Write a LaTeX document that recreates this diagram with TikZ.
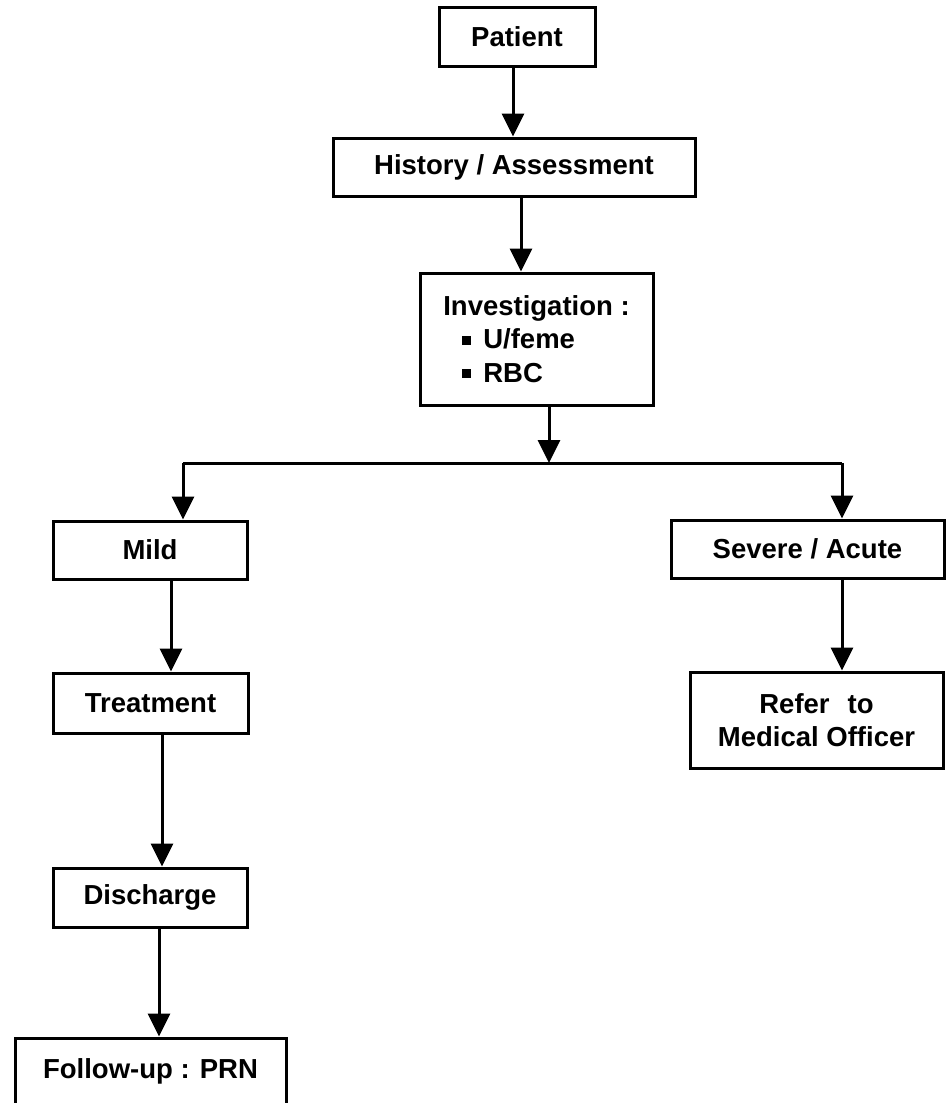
\documentclass[tikz,border=0pt]{standalone}
\usepackage{fontspec}
\setmainfont{Liberation Sans}
\usetikzlibrary{arrows.meta}

\begin{document}
\begin{tikzpicture}[x=1pt,y=-1pt,
  every node/.style={font=\fontsize{27.5}{33.5}\selectfont\bfseries},
  box/.style={draw, line width=3pt, inner sep=0pt, align=center},
  arr/.style={line width=3pt, -{Triangle[width=22pt,length=23pt]}},
  link/.style={line width=3pt}]
  \useasboundingbox (0,0) rectangle (946,1103);

  % boxes
  \node[box, minimum width=156pt, minimum height=59pt] (patient) at (517,36.5) {Patient};
  \node[box, minimum width=362pt, minimum height=58pt] (history) at (514,167) {History / Assessment};
  \node[box, minimum width=233pt, minimum height=132pt, align=left] (inv) at (536.5,339)
    {Investigation :\\
     \hspace*{19pt}\rule[4pt]{9pt}{9pt}\hspace{12pt}U/feme\\
     \hspace*{19pt}\rule[4pt]{9pt}{9pt}\hspace{12pt}RBC};
  \node[box, minimum width=194pt, minimum height=58pt] (mild) at (150,550) {Mild};
  \node[box, minimum width=273pt, minimum height=58pt] (severe) at (807.5,549) {Severe / Acute};
  \node[box, minimum width=195pt, minimum height=60pt] (treat) at (150.5,703) {Treatment};
  \node[box, minimum width=253pt, minimum height=96pt] (refer) at (816.5,720)
    {Refer\hspace{18pt}to\\Medical Officer};
  \node[box, minimum width=194pt, minimum height=59pt] (discharge) at (150,897.5) {Discharge};
  \node[box, minimum width=271pt, minimum height=66pt] (follow) at (150.5,1071) {Follow-up : PRN};

  % x positions of the connectors
  \coordinate (c1) at (513,0);
  \coordinate (c2) at (521,0);
  \coordinate (jM) at (549,463);
  \coordinate (jL) at (183,463);
  \coordinate (jR) at (842,463);
  \coordinate (c3) at (171,0);
  \coordinate (c4) at (162,0);
  \coordinate (c5) at (159,0);

  % connectors
  \draw[arr] (patient.south -| c1) -- (history.north -| c1);
  \draw[arr] (history.south -| c2) -- (inv.north -| c2);
  \draw[arr] (inv.south -| jM) -- (jM);
  \draw[link] (jL) -- (jR);
  \draw[arr] (jL) -- (jL |- mild.north);
  \draw[arr] (jR) -- (jR |- severe.north);
  \draw[arr] (mild.south -| c3) -- (treat.north -| c3);
  \draw[arr] (severe.south -| jR) -- (refer.north -| jR);
  \draw[arr] (treat.south -| c4) -- (discharge.north -| c4);
  \draw[arr] (discharge.south -| c5) -- (follow.north -| c5);
\end{tikzpicture}
\end{document}
